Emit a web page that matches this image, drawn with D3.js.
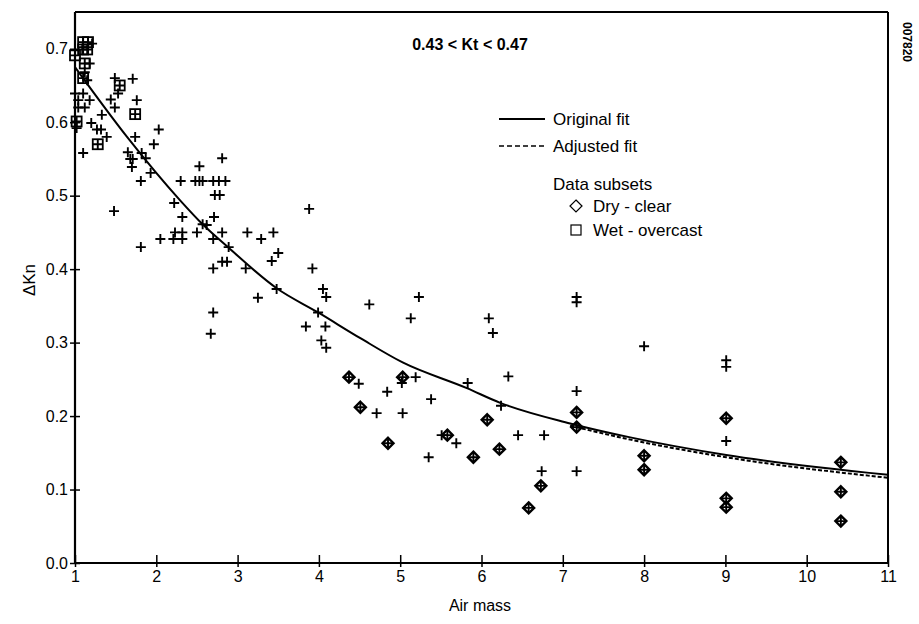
<!DOCTYPE html>
<html><head><meta charset="utf-8">
<script src="https://cdn.jsdelivr.net/npm/d3@7"></script>
<style>
body{margin:0;background:#fff}
svg{display:block}
text{font-family:"Liberation Sans",Arial,Helvetica,sans-serif;fill:#000}
</style>
</head><body>
<svg id="c" width="919" height="624"></svg>
<script>
// ---- data ----
const xTicks = [1,2,3,4,5,6,7,8,9,10,11];
const yTicks = [0.0,0.1,0.2,0.3,0.4,0.5,0.6,0.7];
const title = "0.43 < Kt < 0.47";

// all observations (plus markers) [air mass, dKn]
const allObs = [
 [1.21,0.707],[1.18,0.680],[1.12,0.668],[1.15,0.657],[1.49,0.660],[1.71,0.659],
 [1.53,0.639],[1.76,0.630],[1.44,0.631],[1.49,0.620],[1.00,0.639],[1.10,0.639],
 [1.04,0.630],[1.18,0.630],[1.04,0.620],[1.12,0.620],[1.33,0.610],[1.20,0.599],
 [1.27,0.590],[1.32,0.590],[1.02,0.592],[1.39,0.580],[1.74,0.580],[2.03,0.590],
 [1.97,0.570],[1.10,0.558],[1.65,0.559],[1.82,0.558],[1.68,0.550],[1.71,0.550],
 [1.70,0.539],[1.87,0.551],[1.93,0.531],[1.81,0.520],[2.30,0.520],[2.53,0.540],
 [2.81,0.551],[2.48,0.520],[2.53,0.520],[2.57,0.520],[2.70,0.520],[2.77,0.520],
 [2.85,0.520],[2.72,0.501],[2.78,0.501],[1.48,0.479],[2.22,0.490],[2.32,0.471],
 [2.71,0.471],[2.57,0.461],[2.62,0.460],[2.23,0.450],[2.32,0.450],[2.50,0.450],
 [2.81,0.450],[2.05,0.441],[2.21,0.441],[2.32,0.441],[2.70,0.441],[1.81,0.430],
 [2.89,0.430],[2.81,0.410],[2.87,0.410],[2.70,0.401],[3.10,0.401],[3.12,0.450],
 [3.29,0.441],[3.44,0.450],[3.50,0.422],[3.42,0.411],[3.88,0.482],[3.92,0.401],
 [3.48,0.373],[3.25,0.361],[4.05,0.373],[4.09,0.362],[3.99,0.341],[2.70,0.341],
 [2.67,0.312],[3.84,0.322],[4.08,0.322],[4.03,0.303],[4.09,0.293],[4.62,0.352],
 [5.23,0.362],[5.13,0.333],[6.09,0.333],[6.14,0.313],[6.33,0.254],[5.83,0.245],
 [4.49,0.244],[5.02,0.245],[5.19,0.253],[4.84,0.233],[5.38,0.223],[4.71,0.204],
 [5.03,0.204],[6.24,0.214],[5.51,0.174],[5.69,0.163],[5.35,0.144],[6.45,0.174],
 [6.77,0.174],[7.17,0.234],[6.74,0.125],[7.17,0.125],[7.17,0.362],[7.17,0.355],
 [8.00,0.295],[9.01,0.276],[9.01,0.267],[9.01,0.166],
 // markers under the subset symbols
 [4.37,0.253],[5.03,0.253],[4.51,0.212],[4.85,0.163],[5.58,0.174],[6.07,0.195],
 [5.90,0.144],[6.22,0.155],[7.17,0.205],[7.17,0.185],[6.73,0.105],[6.58,0.075],
 [8.00,0.146],[8.00,0.127],[9.01,0.197],[9.01,0.088],[9.01,0.076],
 [10.42,0.137],[10.42,0.097],[10.42,0.057],
 [1.10,0.709],[1.16,0.709],[1.10,0.699],[1.15,0.699],[1.00,0.691],[1.12,0.680],
 [1.10,0.660],[1.55,0.650],[1.74,0.611],[1.02,0.601],[1.28,0.570]
];
// dry - clear subset (diamonds)
const dryClear = [
 [4.37,0.253],[5.03,0.253],[4.51,0.212],[4.85,0.163],[5.58,0.174],[6.07,0.195],
 [5.90,0.144],[6.22,0.155],[7.17,0.205],[7.17,0.185],[6.73,0.105],[6.58,0.075],
 [8.00,0.146],[8.00,0.127],[9.01,0.197],[9.01,0.088],[9.01,0.076],
 [10.42,0.137],[10.42,0.097],[10.42,0.057]
];
// wet - overcast subset (squares)
const wetOvercast = [
 [1.10,0.709],[1.16,0.709],[1.10,0.699],[1.15,0.699],[1.00,0.691],[1.12,0.680],
 [1.10,0.660],[1.55,0.650],[1.74,0.611],[1.02,0.601],[1.28,0.570]
];
// fitted curves
const originalFit = [
 [1.0,0.675],[1.64,0.580],[2.29,0.494],[2.57,0.461],[2.88,0.430],[3.48,0.374],
 [3.99,0.341],[4.51,0.306],[5.03,0.273],[5.82,0.238],[6.23,0.218],[7.09,0.190],
 [7.83,0.171],[9.01,0.147],[11.0,0.120]
];
const adjustedFit = [
 [7.09,0.189],[7.83,0.170],[9.01,0.146],[11.0,0.118]
];

// ---- layout ----
const svg = d3.select("#c");
const L=75, R=888, T=12, B=563;
const x = d3.scaleLinear().domain([1,11]).range([L,R]);
const y = d3.scaleLinear().domain([0,0.75]).range([B,T]);

// frame top/right
svg.append("line").attr("x1",L).attr("x2",R).attr("y1",T).attr("y2",T).attr("stroke","#000").attr("stroke-width",2);
svg.append("line").attr("x1",R).attr("x2",R).attr("y1",T).attr("y2",B).attr("stroke","#000").attr("stroke-width",2);

// axes
const fs = 16;
const yAxis = svg.append("g").attr("transform",`translate(${L},0)`)
 .call(d3.axisLeft(y).tickValues(yTicks).tickFormat(d3.format(".1f")).tickSize(5).tickPadding(2));
yAxis.selectAll(".tick").append("line").attr("x2",5).attr("stroke","#000").attr("stroke-width",1.5);
const xAxis = svg.append("g").attr("transform",`translate(0,${B})`)
 .call(d3.axisBottom(x).tickValues(xTicks).tickFormat(d3.format("d")).tickSize(4).tickPadding(4));
xAxis.selectAll(".tick").append("line").attr("y2",-8).attr("stroke","#000").attr("stroke-width",1.5);
[yAxis,xAxis].forEach(g=>{
  g.select(".domain").attr("stroke-width",2.2).attr("stroke","#000");
  g.selectAll(".tick line").attr("stroke-width",1.5);
  g.selectAll("text").attr("font-size",fs).attr("fill","#000");
});
xAxis.select(".domain").attr("d",`M${L},0H${R}`);
yAxis.select(".domain").attr("d",`M0,${T}V${B}`);

// axis titles
svg.append("text").attr("x",480).attr("y",611).attr("text-anchor","middle").attr("font-size",16).text("Air mass");
svg.append("text").attr("transform","translate(35,280) rotate(-90)").attr("text-anchor","middle").attr("font-size",17).text("ΔKn");
svg.append("text").attr("x",470).attr("y",50).attr("text-anchor","middle").attr("font-size",16).attr("font-weight","bold").text(title);
svg.append("text").attr("transform","translate(903,42) rotate(90)").attr("text-anchor","middle").attr("font-size",12).attr("font-weight","bold").text("007820");

// fit lines
const line = d3.line().x(d=>x(d[0])).y(d=>y(d[1])).curve(d3.curveMonotoneX);
svg.append("path").attr("d",line(originalFit)).attr("fill","none").attr("stroke","#000").attr("stroke-width",2);
svg.append("path").attr("d",line(adjustedFit)).attr("fill","none").attr("stroke","#000").attr("stroke-width",2).attr("stroke-dasharray","4,2").attr("transform","translate(0,1.5)");

// markers
const plusPath = s => `M${-s},0H${s}M0,${-s}V${s}`;
svg.append("g").selectAll("path").data(allObs).join("path")
 .attr("transform",d=>`translate(${x(d[0])},${y(d[1])})`)
 .attr("d",plusPath(5)).attr("stroke","#000").attr("stroke-width",1.9).attr("fill","none");
svg.append("g").selectAll("path").data(dryClear).join("path")
 .attr("transform",d=>`translate(${x(d[0])},${y(d[1])})`)
 .attr("d","M0,-5.5L5.5,0L0,5.5L-5.5,0Z").attr("stroke","#000").attr("stroke-width",2.4).attr("fill","none");
svg.append("g").selectAll("rect").data(wetOvercast).join("rect")
 .attr("x",d=>x(d[0])-5).attr("y",d=>y(d[1])-5).attr("width",10).attr("height",10)
 .attr("stroke","#000").attr("stroke-width",1.8).attr("fill","none");

// legend
const lg = svg.append("g");
lg.append("line").attr("x1",499).attr("x2",545).attr("y1",119).attr("y2",119).attr("stroke","#000").attr("stroke-width",2);
lg.append("text").attr("x",553).attr("y",125).attr("font-size",17).text("Original fit");
lg.append("line").attr("x1",499).attr("x2",545).attr("y1",146).attr("y2",146).attr("stroke","#000").attr("stroke-width",1.5).attr("stroke-dasharray","5,3");
lg.append("text").attr("x",553).attr("y",152).attr("font-size",17).text("Adjusted fit");
lg.append("text").attr("x",553).attr("y",190).attr("font-size",17).text("Data subsets");
lg.append("path").attr("d","M576,200L582,206L576,212L570,206Z").attr("fill","none").attr("stroke","#000").attr("stroke-width",1.2);
lg.append("text").attr("x",593).attr("y",212).attr("font-size",17).text("Dry - clear");
lg.append("rect").attr("x",571).attr("y",225).attr("width",10).attr("height",10).attr("fill","none").attr("stroke","#000").attr("stroke-width",1.2);
lg.append("text").attr("x",593).attr("y",236).attr("font-size",17).text("Wet - overcast");
</script>
</body></html>
